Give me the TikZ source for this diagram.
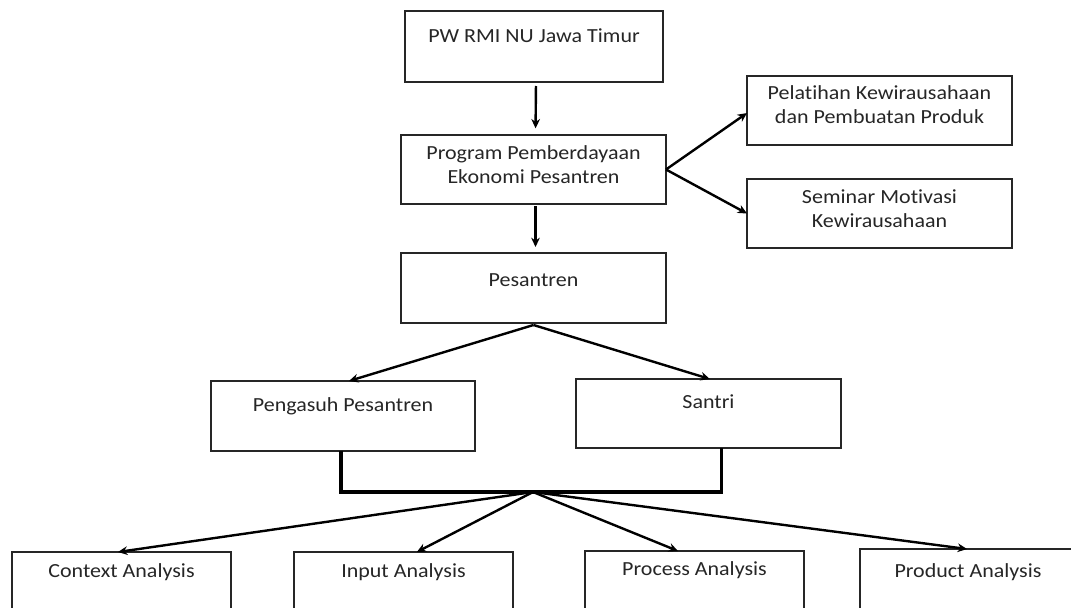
\documentclass[tikz,border=0pt]{standalone}
\usepackage{graphicx}
\usepackage{fontspec}
\setmainfont{Carlito}[Ligatures={NoCommon}]
\usetikzlibrary{arrows.meta}
\newcommand\T[1]{\scalebox{1.1}[1]{\begin{tabular}{@{}c@{}}#1\end{tabular}}}
\begin{document}
\begin{tikzpicture}[x=0.75pt,y=-0.75pt,
  box/.style={draw=black!85, line width=1pt, inner sep=0pt, outer sep=0pt, fill=white},
  txt/.style={inner sep=0pt, align=center, text=black!85, font=\fontsize{15pt}{18pt}\selectfont},
  arr/.style={draw=black, line width=1.8pt, -{Stealth[length=7pt,width=6.5pt]}},
  bar/.style={draw=black, line width=2.3pt, line join=miter}]
\useasboundingbox (0,0) rectangle (1071,607);
\clip (0,0) rectangle (1071,607);
\fill[white] (0,0) rectangle (1071,607);
% boxes
\node[box, minimum width=258*0.75pt, minimum height=71*0.75pt] (pw) at (534,46.5) {};
\node[box, minimum width=265*0.75pt, minimum height=69*0.75pt] (prog) at (533.5,169.5) {};
\node[box, minimum width=265*0.75pt, minimum height=70*0.75pt] (pes) at (533.5,288) {};
\node[box, minimum width=265*0.75pt, minimum height=69*0.75pt] (pel) at (879.5,110.5) {};
\node[box, minimum width=265*0.75pt, minimum height=69*0.75pt] (sem) at (879.5,213.5) {};
\node[box, minimum width=264*0.75pt, minimum height=70*0.75pt] (peng) at (343,416) {};
\node[box, minimum width=265*0.75pt, minimum height=69*0.75pt] (san) at (708.5,413.5) {};
\node[box, minimum width=219*0.75pt, minimum height=70*0.75pt] (ctx) at (121.5,587) {};
\node[box, minimum width=219*0.75pt, minimum height=70*0.75pt] (inp) at (403.5,587) {};
\node[box, minimum width=219*0.75pt, minimum height=70*0.75pt] (proc) at (694.5,586) {};
\node[box, minimum width=230*0.75pt, minimum height=70*0.75pt] (prod) at (975,584) {};
% texts
\node[txt] (pwt) at (534,38) {\T{PW RMI NU Jawa Timur}};
\node[txt] (progt) at (533.5,167) {\T{Program Pemberdayaan\\Ekonomi Pesantren}};
\node[txt] (pest) at (533.5,282) {\T{Pesantren}};
\node[txt] (pelt) at (879.5,106.5) {\T{Pelatihan Kewirausahaan\\dan Pembuatan Produk}};
\node[txt] (semt) at (879.5,211) {\T{Seminar Motivasi\\Kewirausahaan}};
\node[txt] (pengt) at (343,407) {\T{Pengasuh Pesantren}};
\node[txt] (sant) at (708.5,404) {\T{Santri}};
\node[txt] (ctxt) at (121.5,573) {\T{Context Analysis}};
\node[txt] (inpt) at (403.5,573) {\T{Input Analysis}};
\node[txt] (proct) at (694.5,571) {\T{Process Analysis}};
\node[txt] (prodt) at (968,573) {\T{Product Analysis}};
% arrows
\draw[arr, shorten <=3pt, shorten >=5pt] ([xshift=1.5pt]pw.south) -- ([xshift=1.5pt]prog.north);
\draw[arr, shorten <=1.5pt, shorten >=4.5pt] ([xshift=1.5pt]prog.south) -- ([xshift=1.5pt]pes.north);
\draw[arr] (prog.east) -- ([yshift=-1.9pt]pel.west);
\draw[arr] (prog.east) -- (sem.west);
\draw[arr] ([yshift=-1.5pt]pes.south) -- ([xshift=4.5pt]peng.north);
\draw[arr] ([yshift=-1.5pt]pes.south) -- ([xshift=1pt]san.north);
\coordinate (jn) at (533,492);
\draw[bar] ([xshift=-1.5pt]peng.south) |- (jn) -| ([xshift=10pt]san.south);
\draw[arr] (jn) -- ([xshift=-2.6pt]ctx.north);
\draw[arr] (jn) -- ([xshift=10pt]inp.north);
\draw[arr] (jn) -- ([xshift=-12.4pt]proc.north);
\draw[arr] (jn) -- ([xshift=-6pt]prod.north);
\end{tikzpicture}
\end{document}
